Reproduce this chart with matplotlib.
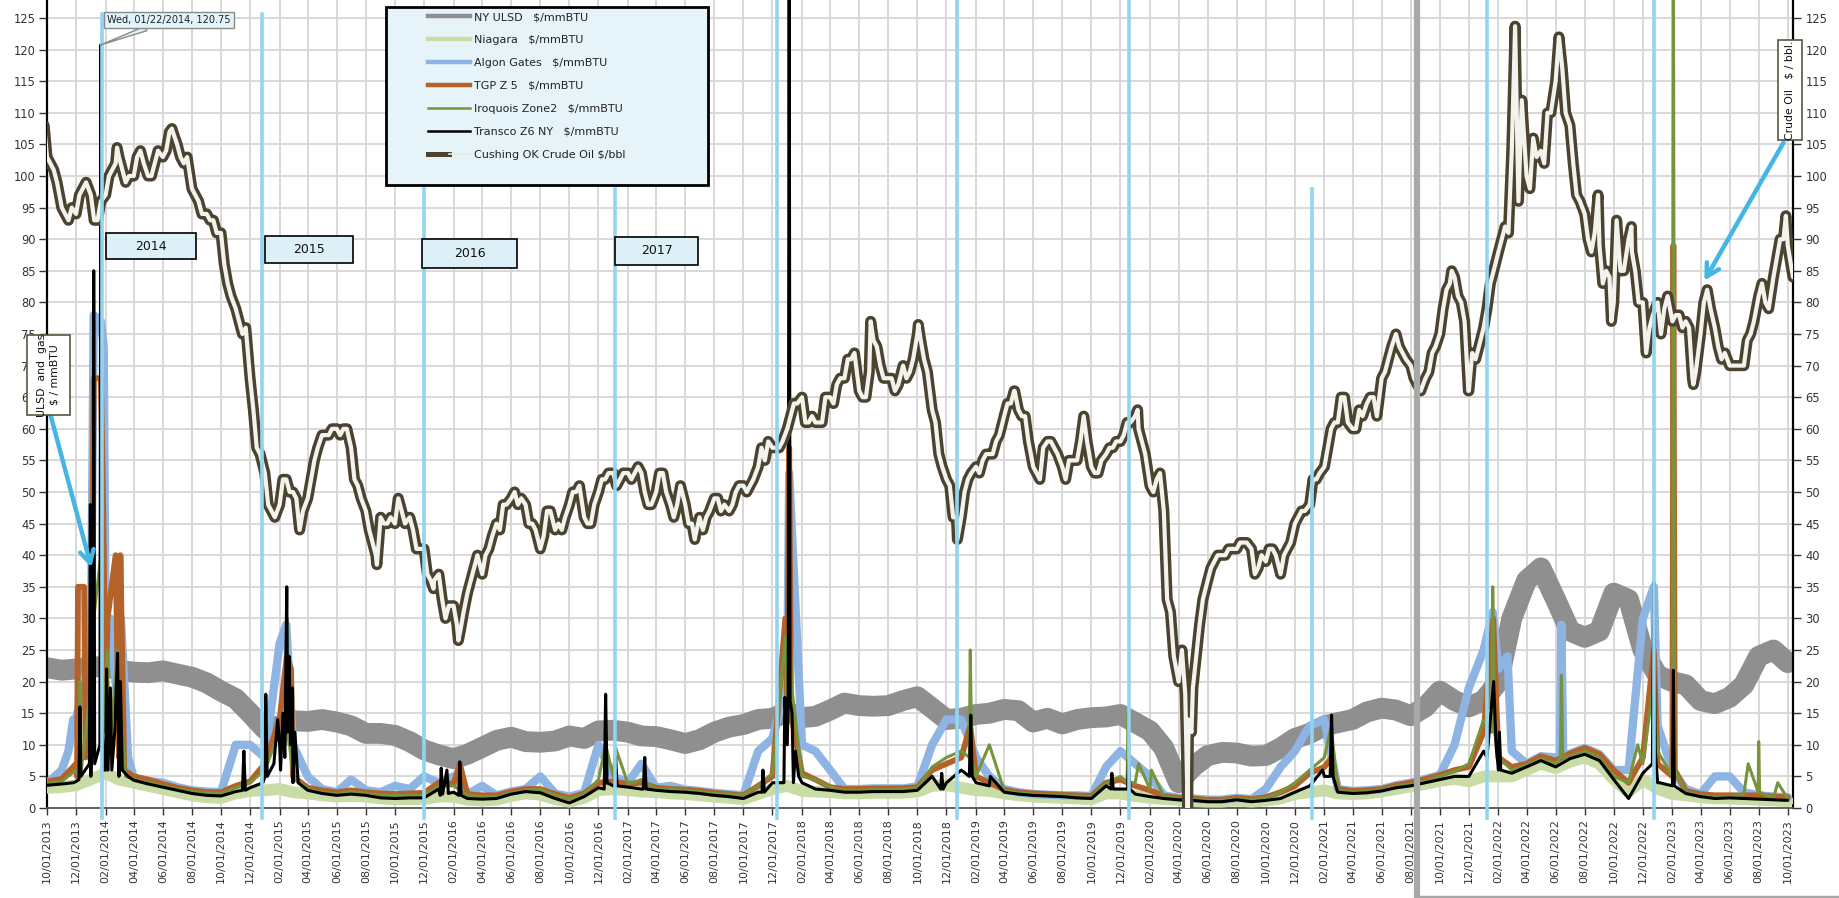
import matplotlib
matplotlib.use("Agg")
import matplotlib.pyplot as plt
import matplotlib.dates as mdates
import pandas as pd
from matplotlib.lines import Line2D
from matplotlib.patches import Rectangle
from matplotlib.legend_handler import HandlerTuple

# ---------------- DATA ----------------
month_dates = pd.date_range("2013-10-01", "2023-10-01", freq="MS")   # 121 monthly points
semi_dates = pd.date_range("2013-10-01", "2023-10-01", freq="SMS")   # 241 points (1st and 15th)
mid_dates = sorted([m + pd.Timedelta(days=7) for m in month_dates[:-1]] +
                   [m + pd.Timedelta(days=21) for m in month_dates[:-1]])  # 240 points (8th and 22nd)

ulsd = [22.2, 21.8, 22.0,
        22.3, 22.4, 21.8, 21.5, 21.4, 21.7, 21.2, 20.7, 19.8, 18.5, 17.3, 15.0,
        12.5, 13.0, 13.8, 13.7, 14.0, 13.6, 13.0, 11.8, 11.8, 11.5, 10.5, 9.2,
        8.4, 7.8, 8.5, 9.6, 10.7, 11.2, 10.5, 10.4, 10.6, 11.4, 11.0, 12.2,
        12.3, 12.0, 11.4, 11.3, 10.8, 10.2, 10.8, 12.0, 12.8, 13.2, 14.0, 14.2,
        15.2, 14.3, 14.5, 15.5, 16.6, 16.2, 16.1, 16.2, 17.0, 17.6, 15.8, 14.0,
        14.2, 14.8, 15.0, 15.6, 15.4, 13.6, 14.2, 13.3, 14.0, 14.3, 14.4, 14.8,
        13.5, 12.2, 9.5, 4.0, 6.5, 8.3, 8.8, 8.7, 8.2, 8.3, 9.5, 11.0,
        11.8, 13.0, 13.5, 14.0, 15.2, 15.8, 15.5, 14.6, 16.0, 18.5, 17.0, 16.0,
        17.0, 20.0, 30.0, 36.0, 38.0, 33.0, 28.0, 27.0, 28.0, 34.0, 33.0, 25.0,
        21.0, 20.0, 19.5, 17.0, 16.5, 17.5, 19.5, 24.0, 25.0, 23.0]

niagara = [3.2, 3.3, 3.6,
           4.5, 5.5, 4.5, 4.0, 3.5, 3.0, 2.5, 2.0, 1.7, 1.6, 2.3, 2.7,
           2.8, 3.0, 2.5, 2.3, 2.0, 1.8, 1.9, 1.8, 1.5, 1.4, 1.4, 1.4,
           1.8, 1.8, 1.3, 1.2, 1.3, 1.9, 2.3, 2.1, 1.4, 1.0, 1.6, 2.8,
           3.0, 2.8, 2.6, 2.5, 2.3, 2.2, 2.0, 1.8, 1.6, 1.4, 2.2, 3.0,
           3.5, 2.7, 2.6, 2.5, 2.3, 2.3, 2.4, 2.4, 2.4, 2.6, 3.5, 3.6,
           3.2, 2.8, 2.7, 2.3, 2.0, 1.8, 1.7, 1.6, 1.5, 1.4, 2.3, 2.3,
           1.9, 1.6, 1.4, 1.3, 1.1, 1.0, 1.0, 1.2, 1.0, 1.2, 1.5, 2.2,
           2.5, 2.8, 2.3, 2.2, 2.3, 2.6, 3.0, 3.4, 3.8, 4.3, 4.6, 4.2,
           5.0, 5.0, 5.0, 6.0, 7.0, 6.3, 7.3, 8.0, 7.0, 4.5, 2.5, 4.5,
           3.0, 2.2, 2.0, 1.7, 1.5, 1.5, 1.4, 1.3, 1.2, 1.1]

algon = [3.9, 6.0, 14.0,
         25.0, 28.0, 14.0, 4.8, 4.3, 4.0, 3.3, 2.8, 2.6, 2.5, 10.0, 10.0,
         8.0, 26.0, 10.0, 5.0, 3.0, 2.5, 4.5, 2.8, 2.5, 3.5, 3.0, 5.0,
         4.0, 5.0, 2.2, 3.5, 2.0, 2.6, 3.0, 5.0, 2.3, 1.8, 2.4, 10.0,
         5.0, 4.0, 7.0, 3.2, 3.5, 2.9, 2.7, 2.4, 2.2, 2.0, 9.0, 11.0,
         20.0, 10.0, 9.0, 6.0, 3.0, 3.0, 3.1, 3.1, 3.1, 3.4, 10.0, 14.0,
         14.0, 8.0, 5.0, 3.0, 2.5, 2.2, 2.1, 2.0, 2.0, 1.9, 6.5, 9.0,
         7.0, 5.0, 2.0, 1.6, 1.5, 1.3, 1.3, 1.6, 1.4, 3.0, 6.5, 9.0,
         13.0, 14.0, 3.0, 2.7, 2.8, 3.0, 3.6, 4.0, 4.6, 5.2, 10.0, 19.0,
         25.0, 22.0, 9.0, 7.0, 8.2, 8.0, 8.6, 9.5, 8.5, 6.0, 6.0, 30.0,
         13.0, 6.0, 3.0, 2.2, 5.0, 5.0, 2.5, 2.0, 1.8, 1.7]

tgp = [4.2, 4.6, 7.0,
       15.0, 18.0, 8.0, 5.0, 4.5, 3.8, 3.2, 2.8, 2.5, 2.5, 3.5, 4.2,
       7.0, 14.0, 5.0, 3.2, 2.8, 2.5, 2.8, 2.5, 2.3, 2.2, 2.3, 2.4,
       4.0, 3.8, 2.2, 2.0, 2.0, 2.6, 3.0, 3.0, 2.2, 1.6, 2.3, 4.0,
       4.2, 3.8, 4.0, 3.2, 3.0, 2.9, 2.7, 2.4, 2.2, 2.0, 3.5, 5.0,
       15.0, 5.5, 4.5, 3.3, 3.0, 3.0, 3.1, 3.1, 3.1, 3.3, 6.0, 7.0,
       8.0, 5.0, 4.0, 2.9, 2.5, 2.3, 2.2, 2.1, 2.0, 1.9, 4.0, 4.5,
       3.5, 2.8, 1.9, 1.6, 1.5, 1.3, 1.3, 1.6, 1.4, 1.7, 2.5, 3.5,
       5.5, 6.5, 3.0, 2.7, 2.8, 3.0, 3.6, 4.0, 4.6, 5.2, 6.0, 6.5,
       12.0, 8.0, 6.5, 7.0, 8.2, 7.5, 8.6, 9.5, 8.5, 6.0, 4.0, 8.0,
       7.0, 3.5, 2.7, 2.2, 2.0, 2.0, 2.0, 2.0, 1.8, 1.7]

iroquois = [3.9, 4.2, 6.0,
            10.0, 12.0, 6.0, 4.6, 4.0, 3.5, 3.0, 2.6, 2.4, 2.3, 3.2, 4.0,
            6.0, 12.0, 5.0, 3.0, 2.5, 2.2, 2.6, 2.3, 2.0, 2.0, 2.0, 2.0,
            3.5, 3.5, 2.0, 1.8, 1.8, 2.4, 2.8, 3.0, 2.0, 1.5, 2.2, 4.5,
            5.0, 3.8, 4.5, 3.0, 3.0, 2.8, 2.6, 2.3, 2.2, 2.0, 3.5, 5.5,
            12.0, 5.0, 4.5, 3.3, 2.8, 2.8, 2.9, 2.9, 3.0, 3.2, 6.5, 8.0,
            9.0, 5.0, 4.0, 2.8, 2.4, 2.2, 2.1, 2.0, 1.9, 1.8, 4.0, 5.0,
            4.0, 3.0, 1.8, 1.5, 1.4, 1.2, 1.2, 1.5, 1.3, 1.6, 2.5, 4.0,
            6.0, 8.0, 2.8, 2.5, 2.6, 2.9, 3.4, 3.8, 4.3, 5.0, 5.8, 7.0,
            14.0, 8.0, 6.0, 6.8, 7.8, 7.0, 8.2, 9.0, 8.0, 5.0, 4.0, 7.0,
            9.0, 4.0, 2.5, 2.0, 1.7, 1.8, 2.2, 2.0, 1.6, 1.5]

transco = [3.6, 3.8, 4.2,
           5.0, 6.0, 5.0, 4.4, 3.8, 3.3, 2.8, 2.3, 2.0, 1.9, 2.6, 3.2,
           5.0, 10.0, 4.0, 2.8, 2.3, 2.0, 2.2, 2.0, 1.6, 1.5, 1.6, 1.6,
           3.0, 2.5, 1.5, 1.4, 1.5, 2.2, 2.6, 2.4, 1.5, 0.8, 1.8, 3.2,
           3.5, 3.3, 3.0, 2.8, 2.6, 2.5, 2.3, 2.0, 1.8, 1.5, 2.5, 4.0,
           10.0, 4.0, 3.0, 2.8, 2.5, 2.5, 2.6, 2.6, 2.6, 2.8, 5.0, 4.0,
           6.0, 4.0, 3.5, 2.5, 2.2, 2.0, 1.9, 1.8, 1.6, 1.5, 3.5, 3.0,
           2.2, 1.8, 1.5, 1.3, 1.2, 1.0, 1.0, 1.3, 1.0, 1.2, 1.5, 2.5,
           3.5, 5.0, 2.5, 2.3, 2.4, 2.7, 3.2, 3.5, 4.0, 4.5, 5.0, 5.0,
           9.0, 6.0, 5.5, 6.5, 7.5, 6.5, 7.8, 8.5, 7.5, 4.5, 1.5, 5.5,
           4.0, 2.8, 2.3, 1.8, 1.5, 1.6, 1.5, 1.4, 1.3, 1.2]

# crude oil on the 1st and 15th of each month
crude = [103, 101, 95, 93, 94, 98,
         97, 93, 97, 101, 103, 99, 100, 104, 100, 102, 103, 107, 105, 102, 98, 96, 94, 93, 91, 83, 79, 75, 68, 57,
         53, 47, 48, 52, 50, 44, 49, 55, 59, 59, 60, 60, 57, 51, 47, 42, 46, 45, 45, 47, 46, 41, 41, 36,
         37, 30, 32, 28, 34, 38, 37, 41, 45, 48, 49, 48, 48, 45, 41, 47, 44, 44, 48, 50, 46, 45, 50, 52,
         53, 52, 53, 53, 53, 48, 50, 53, 48, 48, 48, 45, 46, 46, 49, 47, 47, 50, 51, 51, 54, 55, 57, 57,
         60, 64, 65, 61, 61, 61, 65, 67, 68, 71, 66, 65, 74, 70, 68, 66, 70, 69, 75, 71, 63, 56, 52, 46,
         46, 52, 54, 55, 56, 58, 62, 64, 63, 62, 54, 52, 58, 57, 54, 55, 55, 62, 54, 53, 56, 57, 58, 61,
         62, 58, 51, 52, 47, 31, 20, 18, 19, 29, 36, 39, 40, 41, 41, 42, 41, 38, 39, 41, 37, 41, 45, 47,
         48, 52, 54, 60, 61, 65, 60, 63, 64, 65, 68, 71, 75, 72, 70, 67, 68, 72, 75, 82, 84, 80, 66, 71,
         76, 83, 88, 92, 104, 96, 100, 106, 104, 110, 115, 117, 108, 97, 94, 88, 89, 85, 80, 85, 90, 85, 80, 76,
         80, 79, 77, 78, 77, 68, 75, 82, 76, 71, 70, 70, 70, 75, 81, 80, 84, 90, 89]

# crude oil on the 8th and 22nd of each month
crude_mid = [102, 99, 94, 95, 97, 99,
             93, 96, 100, 102, 101, 100, 103, 102, 100, 104, 104, 107, 103, 103, 97, 94, 93, 91, 86, 81, 77, 76, 63, 56,
             48, 46, 52, 50, 49, 47, 52, 57, 59, 60, 59, 60, 52, 49, 44, 40, 45, 46, 49, 45, 44, 41, 37, 36,
             33, 32, 29, 31, 36, 40, 40, 43, 44, 48, 50, 49, 45, 44, 43, 47, 45, 46, 50, 51, 45, 48, 52, 53,
             51, 53, 52, 54, 50, 48, 53, 50, 46, 51, 45, 43, 44, 47, 49, 48, 48, 51, 50, 52, 57, 58, 57, 58,
             62, 64, 61, 62, 61, 65, 64, 68, 71, 72, 65, 69, 73, 68, 68, 67, 68, 71, 74, 69, 61, 54, 51, 46,
             50, 53, 53, 56, 56, 59, 64, 66, 62, 58, 53, 57, 58, 56, 52, 55, 58, 58, 53, 55, 57, 58, 59, 61,
             60, 56, 50, 53, 33, 24, 25, 14, 24, 33, 38, 40, 40, 41, 42, 42, 37, 40, 41, 40, 40, 42, 46, 47,
             52, 53, 57, 61, 65, 61, 60, 62, 65, 62, 69, 73, 73, 71, 68, 66, 69, 73, 79, 83, 81, 77, 72, 73,
             79, 85, 90, 91, 115, 112, 98, 103, 102, 110, 120, 110, 102, 96, 90, 91, 83, 84, 92, 85, 88, 80, 73, 78,
             75, 81, 78, 76, 76, 69, 80, 79, 73, 72, 70, 70, 74, 77, 83, 79, 87, 90]

crude_x_dates = ["2013-09-25", "2014-02-25", "2014-06-20", "2015-08-24", "2015-12-21", "2016-02-11",
                 "2017-06-21", "2018-06-25", "2018-10-03", "2018-12-24", "2019-04-23", "2020-01-06",
                 "2020-04-20", "2020-04-21", "2020-04-28", "2021-10-26", "2021-11-30", "2022-03-08",
                 "2022-06-08", "2022-08-29", "2022-09-26", "2022-10-07", "2022-11-07", "2022-12-08",
                 "2023-03-17", "2023-09-27", "2023-10-12"]
crude_x_vals = [108, 104.5, 107.5, 38.5, 34.7, 26.5,
                42.5, 77, 76.5, 42.5, 66, 63,
                0, 8, 12, 85, 66, 123.7,
                122, 97, 77, 93, 92, 72,
                67, 93.7, 84]

transco_x_dates = ["2013-11-25", "2013-12-07", "2013-12-09", "2013-12-11", "2013-12-20", "2013-12-29",
                   "2013-12-31", "2014-01-02", "2014-01-06", "2014-01-07", "2014-01-09", "2014-01-20",
                   "2014-01-22", "2014-01-24", "2014-01-28", "2014-02-03", "2014-02-06", "2014-02-11",
                   "2014-02-14", "2014-02-20", "2014-02-26", "2014-03-02", "2014-03-04", "2014-03-08",
                   "2014-03-20", "2014-11-15", "2014-11-18", "2014-11-21", "2014-12-28", "2015-01-03",
                   "2015-01-06", "2015-01-20", "2015-01-28", "2015-02-03", "2015-02-08", "2015-02-12",
                   "2015-02-16", "2015-02-18", "2015-02-21", "2015-02-24", "2015-02-28", "2015-03-05",
                   "2015-03-12", "2016-01-04", "2016-01-06", "2016-01-09", "2016-01-18", "2016-01-21",
                   "2016-02-12", "2016-02-14", "2016-02-17", "2016-12-13", "2016-12-16", "2016-12-19",
                   "2017-01-04", "2017-01-06", "2017-01-09", "2017-03-05", "2017-03-08", "2017-03-11",
                   "2017-11-09", "2017-11-11", "2017-11-14", "2017-12-25", "2017-12-27", "2018-01-03",
                   "2018-01-05", "2018-01-07", "2018-01-11", "2018-01-14", "2018-01-18", "2018-01-25",
                   "2018-11-19", "2018-11-21", "2018-11-24", "2019-01-18", "2019-01-21", "2019-01-24",
                   "2019-03-03", "2019-11-11", "2019-11-13", "2019-11-16", "2019-12-16", "2019-12-18",
                   "2019-12-21", "2021-01-28", "2021-02-13", "2021-02-16", "2021-02-19", "2022-01-08",
                   "2022-01-15", "2022-01-22", "2022-01-27", "2022-02-03", "2022-02-06", "2022-12-21",
                   "2022-12-24", "2022-12-27", "2023-01-05", "2023-02-01", "2023-02-03", "2023-02-05"]
transco_x_vals = [4.0, 4.5, 16, 5, 6, 7,
                  48, 8, 9, 85, 7, 10,
                  120.75, 14, 6, 22, 6, 19,
                  6, 12, 24.5, 8, 20, 6,
                  5, 2.8, 9, 2.8, 4, 18,
                  5, 7, 14, 6, 15, 8,
                  35, 12, 24, 10, 19, 12,
                  4, 2, 6.3, 2.2, 6, 2.3,
                  2, 7.3, 2, 3, 18, 4,
                  3.5, 8, 3.5, 3, 8, 3,
                  2.5, 6, 2.5, 4, 17.5, 17.5,
                  140, 17, 15, 4, 9, 5,
                  3, 5.5, 3, 5, 14.7, 5,
                  5, 3, 5.5, 3, 3, 7.6,
                  3, 6, 5, 14.7, 5, 8,
                  14, 20, 10, 12, 6, 7,
                  35.8, 9, 4, 3.5, 21.8, 3.5]

iroquois_x_dates = ["2013-12-07", "2013-12-09", "2013-12-12", "2014-01-01", "2014-01-07", "2014-01-22",
                    "2014-01-26", "2014-02-04", "2014-02-10", "2014-02-26", "2014-03-05", "2014-03-15",
                    "2015-02-14", "2015-02-16", "2015-02-19", "2016-12-16", "2017-01-06",
                    "2017-12-28", "2018-01-05", "2018-01-09", "2019-01-18", "2019-01-20", "2019-01-23",
                    "2019-03-01", "2019-12-15", "2019-12-17", "2019-12-20", "2020-01-08", "2020-02-04",
                    "2021-02-15", "2022-01-18", "2022-01-20", "2022-01-24", "2022-06-11", "2022-06-13",
                    "2022-06-16", "2022-11-20", "2022-12-24", "2023-02-01", "2023-02-03", "2023-02-06",
                    "2023-07-10", "2023-07-31", "2023-08-01", "2023-08-03", "2023-09-10"]
iroquois_x_vals = [5, 20, 6, 20, 30, 40,
                   20, 25, 10, 25, 15, 5,
                   10, 30, 12, 10, 9.5,
                   27, 45, 20, 8, 25, 8,
                   10, 4, 15, 4, 7, 6,
                   13, 12, 35, 12, 8, 21,
                   8, 10, 20, 5, 140, 6,
                   7, 2.5, 10.5, 2.5, 4]

tgp_x_dates = ["2013-12-03", "2013-12-05", "2013-12-18", "2013-12-21", "2014-01-07", "2014-01-22",
               "2014-01-26", "2014-02-05", "2014-02-22", "2014-03-04", "2014-03-12",
               "2015-02-16", "2015-02-25", "2016-02-14", "2017-12-28", "2018-01-05", "2018-01-09",
               "2019-01-20", "2021-02-16", "2022-01-21", "2022-12-24",
               "2023-02-01", "2023-02-03", "2023-02-06"]
tgp_x_vals = [5, 35, 35, 8, 68, 68,
              52, 30, 40, 40, 6,
              24, 22, 7, 30, 57, 15,
              13, 8, 30, 25,
              5, 89, 6]

algon_x_dates = ["2013-11-15", "2013-11-25", "2014-01-07", "2014-01-22", "2014-01-28", "2014-02-10",
                 "2014-03-05", "2014-03-12", "2014-03-20", "2015-02-15", "2018-01-05",
                 "2022-01-20", "2022-02-20", "2022-06-10", "2022-06-13", "2022-06-17", "2022-12-24"]
algon_x_vals = [9, 14, 78, 77, 73, 30,
                30, 20, 8, 29, 53,
                31, 24, 7.5, 29, 8, 35]

marker_dates = ["2014-01-24", "2014-12-26", "2015-12-01", "2017-01-04", "2017-12-11",
                "2018-12-24", "2019-12-19", "2021-01-06", "2022-01-08", "2022-12-25"]
marker_tops = [125.6, 125.6, 98.0, 98.0, 130.0, 130.0, 130.0, 98.0, 130.0, 130.0]
year_labels = ["2014", "2015", "2016", "2017"]

x_start, x_end = "2013-10-01", "2023-10-12"
tick_dates = pd.date_range("2013-10-01", "2023-10-01", freq="2MS")
y_ticks = list(range(0, 130, 5))


def build(base_dates, base_vals, x_dates, x_vals):
    idx = list(base_dates) + list(pd.to_datetime(x_dates))
    s = pd.Series(list(base_vals) + list(x_vals), index=idx)
    s = s.sort_index(kind="mergesort")
    s = s[~s.index.duplicated(keep="last")]
    return s


s_ulsd = pd.Series(ulsd, index=month_dates)
s_niag = pd.Series(niagara, index=month_dates)
s_algon = build(month_dates, algon, algon_x_dates, algon_x_vals)
s_tgp = build(month_dates, tgp, tgp_x_dates, tgp_x_vals)
s_iroq = build(month_dates, iroquois, iroquois_x_dates, iroquois_x_vals)
s_trans = build(month_dates, transco, transco_x_dates, transco_x_vals)
s_crude = build(list(semi_dates) + list(mid_dates), crude + crude_mid, crude_x_dates, crude_x_vals)

# ---------------- FIGURE ----------------
W, H = 1839, 898
fig = plt.figure(figsize=(W / 100, H / 100), dpi=100)
fig.patch.set_facecolor("white")


def fx(px):
    return px / W


def fy(py):
    return 1 - py / H


ax = fig.add_axes([fx(47), 90 / H, (1793 - 47) / W, 808 / H])
ymax = 127.85
ax.set_ylim(0, ymax)
ax.set_xlim(pd.Timestamp(x_start), pd.Timestamp(x_end))

ax.set_xticks(tick_dates)
ax.xaxis.set_major_formatter(mdates.DateFormatter("%m/%d/%Y"))
ax.tick_params(axis="x", rotation=90, labelsize=8, colors="#333333", length=5, width=1, pad=3)
ax.set_yticks(y_ticks)
ax.tick_params(axis="y", labelsize=8.3, colors="#333333", length=6, width=1, pad=2)
ax.grid(True, color="#d6d6d6", lw=1.3)
ax.set_axisbelow(True)
for side in ["left", "right"]:
    ax.spines[side].set_color("black")
    ax.spines[side].set_linewidth(1.6)
ax.spines["bottom"].set_color("#555555")
ax.spines["bottom"].set_linewidth(1.3)
ax.spines["top"].set_visible(False)

ax2 = ax.twinx()
ax2.set_ylim(0, ymax)
ax2.set_yticks(y_ticks)
ax2.tick_params(axis="y", labelsize=8.3, colors="#333333", length=6, width=1, pad=3)
for sp in ax2.spines.values():
    sp.set_visible(False)

c_ulsd, c_niag, c_algon, c_tgp, c_iroq, c_trans = "#8f8f8f", "#c9dca6", "#8db4e2", "#b5622a", "#77933c", "#000000"
c_crude_out, c_crude_in = "#4b4330", "#f3f3ee"

kw = dict(solid_joinstyle="round", solid_capstyle="round")
ax.plot(s_ulsd.index, s_ulsd.values, color=c_ulsd, lw=15, zorder=2, **kw)
ax.plot(s_niag.index, s_niag.values, color=c_niag, lw=8.5, zorder=3, **kw)
ax.plot(s_algon.index, s_algon.values, color=c_algon, lw=6, zorder=4, **kw)
ax.plot(s_tgp.index, s_tgp.values, color=c_tgp, lw=4.2, zorder=5, **kw)
ax.plot(s_iroq.index, s_iroq.values, color=c_iroq, lw=2.2, zorder=6, **kw)
ax.plot(s_trans.index, s_trans.values, color=c_trans, lw=2.2, zorder=7, **kw)
ax.plot(s_crude.index, s_crude.values, color=c_crude_out, lw=8, zorder=8, **kw)
ax.plot(s_crude.index, s_crude.values, color=c_crude_in, lw=3, zorder=9, **kw)

# vertical light-blue marker lines
for d, top in zip(marker_dates, marker_tops):
    ax.axvline(pd.Timestamp(d), ymin=-0.012, ymax=top / ymax, color="#93d4ef", lw=2.6, zorder=12,
               clip_on=False)

# callout for the Transco spike
ax.annotate("Wed, 01/22/2014, 120.75", xy=(pd.Timestamp("2014-01-22"), 120.75),
            xytext=(fx(169), fy(20)), textcoords="figure fraction", ha="center", va="center",
            fontsize=7, color="#222222", zorder=30,
            bbox=dict(boxstyle="square,pad=0.3", fc="#e0f2fa", ec="#8a8a8a", lw=1),
            arrowprops=dict(arrowstyle="wedge,tail_width=0.5", fc="#e0f2fa", ec="#8a8a8a", lw=1,
                            shrinkA=0, shrinkB=0))

# year boxes
year_boxes = [(106, 233, 196, 259), (265, 236, 353, 263), (422, 239, 517, 268), (615, 237, 698, 265)]
for lab, (x0, y0, x1, y1) in zip(year_labels, year_boxes):
    fig.add_artist(Rectangle((fx(x0), fy(y1)), fx(x1 - x0), (y1 - y0) / H, transform=fig.transFigure,
                             fc="#ddf0f8", ec="black", lw=1.2, zorder=40))
    fig.text(fx((x0 + x1) / 2), fy((y0 + y1) / 2), lab, ha="center", va="center", fontsize=9,
             color="#111111", zorder=41)

# axis label boxes with blue arrows
fig.add_artist(Rectangle((fx(27), fy(415)), fx(43), 80 / H, transform=fig.transFigure,
                         fc="white", ec="#5a5440", lw=1.2, zorder=40))
fig.text(fx(48.5), fy(375), "ULSD  and  gas\n$ / mmBTU", rotation=90, ha="center", va="center",
         fontsize=7.8, color="#111111", zorder=41, linespacing=1.3)
fig.add_artist(Rectangle((fx(1778), fy(140)), fx(24), 100 / H, transform=fig.transFigure,
                         fc="white", ec="#5a5440", lw=1.2, zorder=40))
fig.text(fx(1790), fy(90), "Crude Oil   $ / bbl.", rotation=90, ha="center", va="center",
         fontsize=7.8, color="#111111", zorder=41)
arrow_kw = dict(arrowstyle="->,head_length=0.9,head_width=0.5", color="#45b5e3", lw=3.2)
ax.annotate("", xy=(fx(92), fy(570)), xytext=(fx(50), fy(413)), xycoords="figure fraction",
            textcoords="figure fraction", arrowprops=arrow_kw, zorder=35)
ax.annotate("", xy=(fx(1703), fy(283)), xytext=(fx(1785), fy(140)), xycoords="figure fraction",
            textcoords="figure fraction", arrowprops=arrow_kw, zorder=35)

# legend
fig.add_artist(Rectangle((fx(386), fy(185)), fx(322), 178 / H, transform=fig.transFigure,
                         fc="#e6f4fa", ec="black", lw=2, zorder=45))
handles = [Line2D([], [], color=c_ulsd, lw=3.2),
           Line2D([], [], color=c_niag, lw=3.2),
           Line2D([], [], color=c_algon, lw=3.2),
           Line2D([], [], color=c_tgp, lw=3.2),
           Line2D([], [], color=c_iroq, lw=1.8),
           Line2D([], [], color=c_trans, lw=1.8),
           (Line2D([], [], color=c_crude_out, lw=3.6), Line2D([], [], color="#e8e8dc", lw=1.2))]
labels = ["NY ULSD   $/mmBTU", "Niagara   $/mmBTU", "Algon Gates   $/mmBTU", "TGP Z 5   $/mmBTU",
          "Iroquois Zone2   $/mmBTU", "Transco Z6 NY   $/mmBTU", "Cushing OK Crude Oil $/bbl"]
leg = fig.legend(handles, labels, loc="upper left", bbox_to_anchor=(fx(428), fy(12)),
                 frameon=False, fontsize=8, handlelength=3.8, handletextpad=0.3, labelspacing=1.17,
                 borderpad=0, borderaxespad=0, handler_map={tuple: HandlerTuple(ndivide=None)})
leg.set_zorder(46)
for t in leg.get_texts():
    t.set_color("#222222")

# stitched-screenshot seam
fig.add_artist(Line2D([fx(1417), fx(1417)], [0, 1], transform=fig.transFigure, color="#a8a8a8",
                      lw=4.5, zorder=60))
fig.add_artist(Line2D([fx(1417), 1], [fy(896.5), fy(896.5)], transform=fig.transFigure,
                      color="#a8a8a8", lw=2.5, zorder=60))

fig.savefig("out.png", dpi=100, facecolor="white")
